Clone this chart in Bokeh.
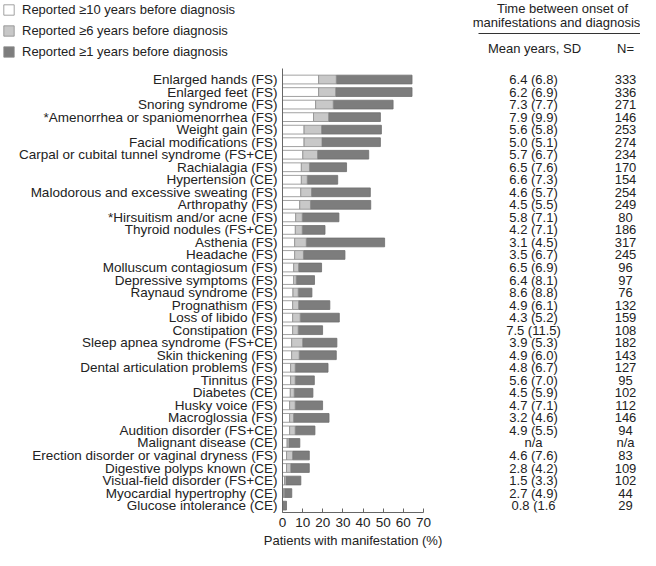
from bokeh.plotting import figure
from bokeh.models import (ColumnDataSource, Range1d, FixedTicker, Legend, LegendItem, Label)
from bokeh.layouts import column, row
from bokeh.core.properties import value
from bokeh.embed import file_html
from bokeh.resources import INLINE

# ---------------- data ----------------
labels = [
    "Enlarged hands (FS)", "Enlarged feet (FS)", "Snoring syndrome (FS)",
    "*Amenorrhea or spaniomenorrhea (FS)", "Weight gain (FS)", "Facial modifications (FS)",
    "Carpal or cubital tunnel syndrome (FS+CE)", "Rachialagia (FS)", "Hypertension (CE)",
    "Malodorous and excessive sweating (FS)", "Arthropathy (FS)", "*Hirsuitism and/or acne (FS)",
    "Thyroid nodules (FS+CE)", "Asthenia (FS)", "Headache (FS)", "Molluscum contagiosum (FS)",
    "Depressive symptoms (FS)", "Raynaud syndrome (FS)", "Prognathism (FS)", "Loss of libido (FS)",
    "Constipation (FS)", "Sleep apnea syndrome (FS+CE)", "Skin thickening (FS)",
    "Dental articulation problems (FS)", "Tinnitus (FS)", "Diabetes (CE)", "Husky voice (FS)",
    "Macroglossia (FS)", "Audition disorder (FS+CE)", "Malignant disease (CE)",
    "Erection disorder or vaginal dryness (FS)", "Digestive polyps known (CE)",
    "Visual-field disorder (FS+CE)", "Myocardial hypertrophy (CE)", "Glucose intolerance (CE)",
]
# cumulative percentages of patients reporting the manifestation
ge10 = [17.9, 17.9, 16.4, 15.4, 10.6, 10.6, 10.0, 9.3, 9.3, 9.0, 8.5, 6.5, 6.3, 6.0, 6.0,
        5.5, 5.5, 5.1, 5.0, 5.0, 5.0, 4.5, 4.5, 4.0, 4.0, 3.8, 3.5, 3.5, 3.5, 2.2, 2.0,
        2.0, 1.0, 0.5, 0.0]
ge6 = [26.7, 26.4, 25.2, 22.9, 19.4, 19.6, 17.4, 13.4, 12.3, 14.4, 13.9, 9.8, 9.8, 11.8, 10.4,
       8.0, 6.8, 7.8, 8.0, 8.8, 7.8, 10.0, 8.3, 6.3, 6.3, 5.8, 6.3, 5.5, 6.3, 3.2, 5.0,
       4.1, 1.7, 1.0, 0.2]
ge1 = [64.3, 64.3, 54.9, 48.6, 49.1, 48.6, 42.8, 31.8, 27.4, 43.6, 43.8, 28.0, 21.1, 50.7, 31.0,
       19.4, 15.9, 14.6, 23.5, 28.2, 19.9, 27.0, 26.7, 22.6, 15.8, 15.1, 19.9, 23.1, 16.1, 8.6,
       13.3, 13.3, 9.1, 4.6, 2.0]
mean_sd = ["6.4 (6.8)", "6.2 (6.9)", "7.3 (7.7)", "7.9 (9.9)", "5.6 (5.8)", "5.0 (5.1)",
           "5.7 (6.7)", "6.5 (7.6)", "6.6 (7.3)", "4.6 (5.7)", "4.5 (5.5)", "5.8 (7.1)",
           "4.2 (7.1)", "3.1 (4.5)", "3.5 (6.7)", "6.5 (6.9)", "6.4 (8.1)", "8.6 (8.8)",
           "4.9 (6.1)", "4.3 (5.2)", "7.5 (11.5)", "3.9 (5.3)", "4.9 (6.0)", "4.8 (6.7)",
           "5.6 (7.0)", "4.5 (5.9)", "4.7 (7.1)", "3.2 (4.6)", "4.9 (5.5)", "n/a",
           "4.6 (7.6)", "2.8 (4.2)", "1.5 (3.3)", "2.7 (4.9)", "0.8 (1.6"]
n_vals = ["333", "336", "271", "146", "253", "274", "234", "170", "154", "254", "249", "80",
          "186", "317", "245", "96", "97", "76", "132", "159", "108", "182", "143", "127",
          "95", "102", "112", "146", "94", "n/a", "83", "109", "102", "44", "29"]
x_ticks = [0, 10, 20, 30, 40, 50, 60, 70]
legend_labels = ["Reported \u226510 years before diagnosis",
                 "Reported \u22656 years before diagnosis",
                 "Reported \u22651 years before diagnosis"]

# ---------------- style ----------------
FONT = "Liberation Sans"
TXT = "#222222"
C_WHITE, C_LIGHT, C_DARK = "#ffffff", "#c8c8c8", "#7d7d7d"
EDGE = "#8a8a8a"
FS = "13px"

idx = list(range(len(labels)))
src = ColumnDataSource(dict(y=idx, a=ge10, b=ge6, c=ge1, zero=[0] * len(idx),
                            mean=mean_sd, n=n_vals))

yr = Range1d(start=34.55, end=-0.88)

# ---------------- top: legend + header ----------------
TOP_H = 66
top = figure(width=640, height=TOP_H, x_range=Range1d(0, 640), y_range=Range1d(0, TOP_H),
             x_axis_type=None, y_axis_type=None, toolbar_location=None,
             output_backend="svg", min_border=0, outline_line_color=None)
top.grid.visible = False
items = []
for lab, col in zip(legend_labels, [C_WHITE, C_LIGHT, C_DARK]):
    # legend swatch renderer (kept outside the visible range)
    r = top.hbar(y=[-1000], right=[1], height=0.5, fill_color=col, line_color=EDGE,
                 line_width=0.8)
    items.append(LegendItem(label=lab, renderers=[r]))
leg = Legend(items=items, location="top_left", glyph_width=13, glyph_height=13,
             label_height=13, spacing=6, padding=0, margin=2, label_standoff=7,
             border_line_color=None, background_fill_alpha=0,
             label_text_font=FONT, label_text_font_size=FS, label_text_color=TXT)
top.add_layout(leg)

for txt, x, y in [("Time between onset of", 562, TOP_H - 8),
                  ("manifestations and diagnosis", 556, TOP_H - 22),
                  ("Mean years, SD", 534, TOP_H - 48),
                  ("N=", 625, TOP_H - 48)]:
    top.add_layout(Label(x=x, y=y, text=txt, text_align="center", text_baseline="middle",
                         text_font=FONT, text_font_size=FS, text_color=TXT))
top.line(x=[478, 640], y=[TOP_H - 33, TOP_H - 33], line_color="#333333", line_width=1)

# ---------------- main bars ----------------
MAIN_H = 550 - TOP_H
BOTTOM = MAIN_H - (514 - TOP_H)
p = figure(width=448, height=MAIN_H, x_range=Range1d(0, 70), y_range=yr,
           toolbar_location=None, output_backend="svg",
           min_border_left=282, min_border_right=25, min_border_top=2,
           min_border_bottom=BOTTOM, outline_line_color=None)
p.grid.visible = False
p.hbar(y="y", left="b", right="c", height=0.7, source=src, fill_color=C_DARK,
       line_color="#6e6e6e", line_width=0.8)
p.hbar(y="y", left="a", right="b", height=0.7, source=src, fill_color=C_LIGHT,
       line_color=EDGE, line_width=0.8)
p.hbar(y="y", left="zero", right="a", height=0.7, source=src, fill_color=C_WHITE,
       line_color=EDGE, line_width=0.8)

p.xaxis.ticker = FixedTicker(ticks=x_ticks)
p.xaxis.minor_tick_line_color = None
p.xaxis.major_tick_in = 4
p.xaxis.major_tick_out = 0
p.xaxis.major_label_standoff = 5
p.xaxis.axis_label = "Patients with manifestation (%)"
p.xaxis.axis_label_standoff = 3
p.xaxis.axis_label_text_font_style = "normal"

p.yaxis.ticker = FixedTicker(ticks=idx)
p.yaxis.major_label_overrides = {i: lab for i, lab in zip(idx, labels)}
p.yaxis.minor_tick_line_color = None
p.yaxis.major_tick_in = 0
p.yaxis.major_tick_out = 0
p.yaxis.major_label_standoff = 5

for ax in [p.xaxis, p.yaxis]:
    ax.axis_line_color = "#666666"
    ax.major_tick_line_color = "#666666"
    ax.major_label_text_font = FONT
    ax.major_label_text_color = TXT
    ax.axis_label_text_font = FONT
    ax.axis_label_text_font_size = FS
    ax.axis_label_text_color = TXT
p.yaxis.major_label_text_font_size = "13.5px"
p.xaxis.major_label_text_font_size = "13.5px"

# ---------------- table ----------------
t = figure(width=192, height=MAIN_H, x_range=Range1d(0, 192), y_range=yr,
           x_axis_type=None, y_axis_type=None, toolbar_location=None,
           output_backend="svg", min_border_left=0, min_border_right=0,
           min_border_top=2, min_border_bottom=BOTTOM, outline_line_color=None)
t.grid.visible = False
t.text(x=85, y="y", text="mean", source=src, text_align="center", text_baseline="middle",
       text_font=value(FONT), text_font_size=FS, text_color=TXT)
t.text(x=177, y="y", text="n", source=src, text_align="center", text_baseline="middle",
       text_font=value(FONT), text_font_size=FS, text_color=TXT)

layout = column(top, row(p, t))
open("out.html", "w").write(file_html(layout, INLINE))
